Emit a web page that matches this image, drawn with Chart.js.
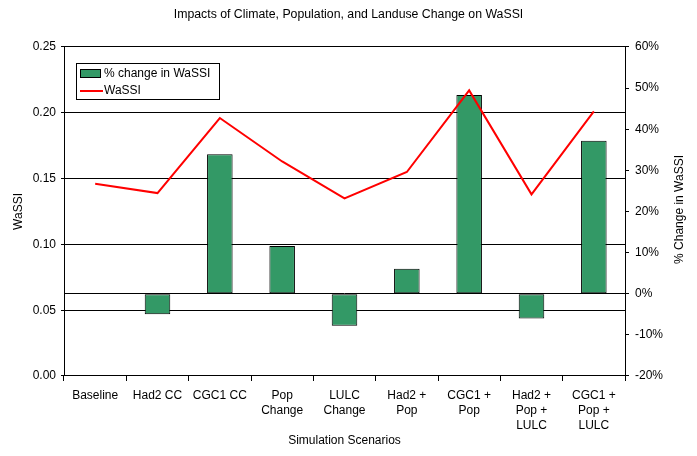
<!DOCTYPE html>
<html>
<head>
<meta charset="utf-8">
<script src="https://cdn.jsdelivr.net/npm/chart.js@4"></script>
<style>
  body { margin: 0; background: #fff; }
  canvas { display: block; }
</style>
</head>
<body>
<canvas id="wassiChart" width="697" height="456"></canvas>
<script>
// Scenarios along the bottom
const scenarios = [
  "Baseline",
  "Had2 CC",
  "CGC1 CC",
  ["Pop", "Change"],
  ["LULC", "Change"],
  ["Had2 +", "Pop"],
  ["CGC1 +", "Pop"],
  ["Had2 +", "Pop +", "LULC"],
  ["CGC1 +", "Pop +", "LULC"]
];

// % change in WaSSI (right axis)
const pctChange = [0, -5.0, 33.9, 11.6, -7.8, 6.1, 48.3, -6.0, 37.2];

// WaSSI value (left axis)
const wassi = [0.146, 0.139, 0.196, 0.163, 0.135, 0.155, 0.217, 0.138, 0.201];

const rightTitle = "% Change in WaSSI";

const barColor = "#339966";
const lineColor = "#ff0000";
const fontFamily = "'Liberation Sans', Arial, sans-serif";

// legend box drawn inside the plot area, like the original
const insideLegend = {
  id: "insideLegend",
  afterDraw(chart) {
    const ctx = chart.ctx;
    const ds = chart.data.datasets;
    ctx.save();
    ctx.fillStyle = "#fff";
    ctx.fillRect(76, 63, 143, 36);
    ctx.strokeStyle = "#000";
    ctx.lineWidth = 1;
    ctx.strokeRect(76.5, 63.5, 143, 36);

    ctx.fillStyle = barColor;
    ctx.fillRect(80.5, 69.5, 20, 8);
    ctx.strokeRect(80.5, 69.5, 20, 8);

    ctx.strokeStyle = lineColor;
    ctx.lineWidth = 2;
    ctx.beginPath();
    ctx.moveTo(80, 91);
    ctx.lineTo(103, 91);
    ctx.stroke();

    ctx.fillStyle = "#000";
    ctx.font = "12px " + fontFamily;
    ctx.textBaseline = "middle";
    ctx.fillText(ds[1].label, 104, 74);
    ctx.fillText(ds[0].label, 104, 91);
    ctx.restore();
  }
};

// right axis title reads bottom-to-top in the original
const rightAxisTitle = {
  id: "rightAxisTitle",
  afterDraw(chart) {
    const ctx = chart.ctx;
    const area = chart.chartArea;
    ctx.save();
    ctx.translate(680, (area.top + area.bottom) / 2 - 2);
    ctx.rotate(-Math.PI / 2);
    ctx.fillStyle = "#000";
    ctx.font = "12px " + fontFamily;
    ctx.textAlign = "center";
    ctx.textBaseline = "middle";
    ctx.fillText(rightTitle, 0, 0);
    ctx.restore();
  }
};

const ctx = document.getElementById("wassiChart").getContext("2d");

new Chart(ctx, {
  type: "bar",
  data: {
    labels: scenarios,
    datasets: [
      {
        type: "line",
        label: "WaSSI",
        data: wassi,
        yAxisID: "y",
        borderColor: lineColor,
        borderWidth: 2,
        pointRadius: 0,
        tension: 0,
        order: 0
      },
      {
        type: "bar",
        label: "% change in WaSSI",
        data: pctChange,
        yAxisID: "y1",
        backgroundColor: barColor,
        borderColor: "#000",
        borderWidth: 1,
        borderSkipped: false,
        barPercentage: 0.41,
        categoryPercentage: 1,
        order: 1
      }
    ]
  },
  options: {
    responsive: false,
    animation: false,
    layout: { padding: 0 },
    plugins: {
      legend: { display: false },
      tooltip: { enabled: false },
      title: {
        display: true,
        text: "Impacts of Climate, Population, and Landuse Change on WaSSI",
        color: "#000",
        font: { family: fontFamily, size: 12.3, weight: "normal" },
        padding: { top: 7, bottom: 25.2 }
      }
    },
    scales: {
      x: {
        offset: true,
        afterFit: s => { s.height = 80; },
        grid: {
          offset: true,
          drawOnChartArea: false,
          color: "#000",
          tickLength: 5
        },
        border: { color: "#000" },
        ticks: {
          color: "#000",
          maxRotation: 0,
          autoSkip: false,
          padding: 7,
          font: { family: fontFamily, size: 12, lineHeight: 1.25 }
        },
        title: {
          display: true,
          text: "Simulation Scenarios",
          color: "#000",
          font: { family: fontFamily, size: 12 },
          padding: { top: 2, bottom: 8 }
        }
      },
      y: {
        position: "left",
        min: 0,
        max: 0.25,
        afterFit: s => { s.width = 64; },
        grid: { color: "#000", tickLength: 3 },
        border: { color: "#000" },
        ticks: {
          stepSize: 0.05,
          color: "#000",
          padding: 5,
          font: { family: fontFamily, size: 12 },
          callback: v => v.toFixed(2)
        },
        title: {
          display: true,
          text: "WaSSI",
          color: "#000",
          font: { family: fontFamily, size: 12 },
          padding: { top: 11, bottom: 0 }
        }
      },
      y1: {
        position: "right",
        min: -20,
        max: 60,
        afterFit: s => { s.width = 72; },
        grid: {
          color: c => (c.tick && c.tick.value === 0 ? "#000" : "rgba(0,0,0,0)"),
          tickColor: "#000",
          tickLength: 4
        },
        border: { color: "#000" },
        ticks: {
          stepSize: 10,
          color: "#000",
          padding: 6,
          font: { family: fontFamily, size: 12 },
          callback: v => v + "%"
        }
      }
    }
  },
  plugins: [insideLegend, rightAxisTitle]
});
</script>
</body>
</html>
